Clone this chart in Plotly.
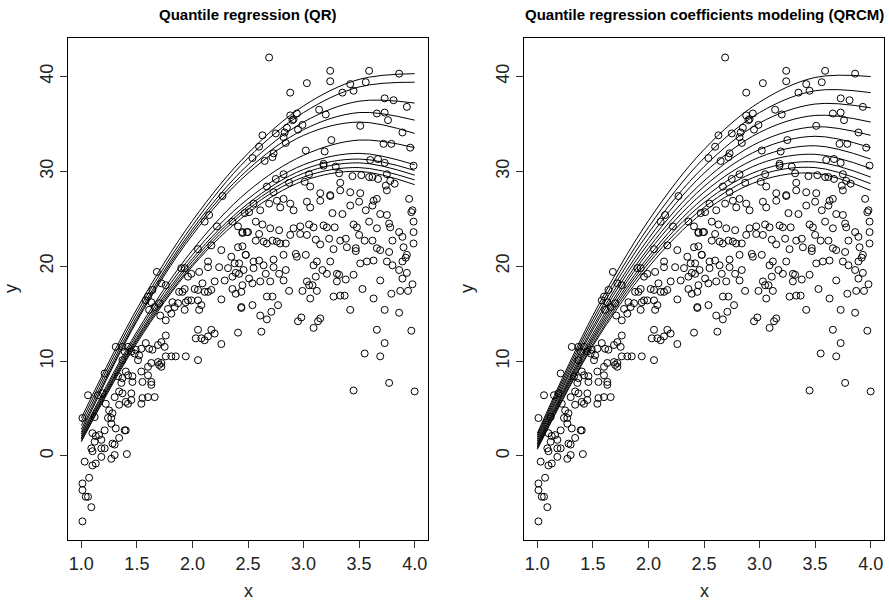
import plotly.graph_objects as go

# ---------------- data ----------------
x_pts = [
 # upper right region
 2.69,3.24,3.59,3.86,3.03,3.24,3.42,3.56,3.35,3.45,2.88,3.73,3.81,3.93,3.14,3.20,2.88,2.91,2.94,2.90,
 2.99,2.95,2.85,2.83,2.82,2.84,2.75,2.63,2.60,2.54,2.73,2.65,2.72,3.66,3.73,3.76,3.51,3.89,3.25,3.72,
 3.79,3.96,3.02,3.19,3.18,3.18,3.29,3.05,3.32,3.60,3.67,3.73,3.99,3.44,3.52,3.59,3.62,3.67,3.75,3.78,
 2.75,2.82,2.87,3.01,3.06,3.15,3.24,3.33,3.33,3.42,3.51,3.63,3.66,3.74,3.82,3.75,3.95,3.98,3.97,2.67,
 2.73,2.76,2.82,2.69,2.79,2.88,2.91,3.03,3.06,3.15,3.24,3.26,3.35,3.42,3.50,3.56,3.62,3.69,3.75,2.61,
 2.55,2.51,2.47,2.15,2.27,
 # lower right region
 2.57,2.63,2.70,2.78,2.91,2.97,3.05,3.09,3.18,3.21,3.28,3.45,3.48,3.59,3.66,3.77,3.78,3.86,3.99,3.99,
 2.45,2.49,2.60,2.72,2.57,2.64,2.67,2.76,2.79,2.84,2.88,2.97,3.03,3.11,3.15,3.23,3.27,3.33,3.38,3.39,
 3.47,3.50,3.55,3.62,3.66,3.69,3.77,3.80,3.89,3.90,3.99,3.93,
 2.48,2.55,2.60,2.64,2.73,2.73,2.82,2.93,2.94,3.02,3.09,3.12,3.17,3.24,3.21,3.30,3.32,3.47,3.51,3.57,
 3.63,3.75,3.80,3.89,3.92,3.86,3.93,2.46,2.55,2.66,2.78,2.84,2.51,
 2.54,2.61,2.70,2.82,2.87,2.99,3.03,3.05,3.08,3.11,3.12,3.30,3.38,3.45,3.53,3.69,3.89,3.98,3.94,3.87,
 3.79,3.63,3.42,3.27,3.33,3.37,3.06,2.77,2.72,2.67,2.54,2.44,2.45,
 2.61,2.67,2.71,2.95,2.98,3.15,3.13,3.09,2.62,3.73,3.86,3.66,3.97,3.73,3.55,3.69,3.77,4.00,3.45,
 # middle left region
 2.11,2.22,2.36,2.41,2.45,2.50,2.05,2.17,2.26,2.35,2.41,2.45,2.48,2.14,2.14,2.06,1.99,1.96,1.90,1.93,
 2.24,2.32,2.38,2.42,2.39,2.42,2.36,2.29,2.20,2.17,2.09,2.11,2.14,2.05,2.02,1.91,1.93,1.88,1.96,1.99,
 2.05,2.08,2.06,1.93,1.94,1.87,1.84,1.82,1.78,1.81,1.70,1.71,1.76,1.68,1.72,1.76,1.64,1.60,1.63,1.66,
 1.61,1.58,2.39,2.44,2.36,2.26,2.44,2.41,2.26,2.14,2.05,2.11,2.08,2.17,2.20,2.03,2.05,1.94,1.85,1.81,
 1.76,1.72,1.70,1.72,1.69,1.75,1.76,1.72,1.69,1.64,1.61,1.58,1.54,1.49,1.48,1.52,1.51,1.45,1.42,1.39,
 1.37,1.31,1.37,1.63,1.60,1.54,1.60,1.46,1.40,1.42,1.37,1.33,1.21,
 # lower left region
 1.06,1.01,1.12,1.15,1.19,1.22,1.25,1.24,1.27,1.28,1.27,1.30,1.34,1.37,1.36,1.45,1.46,1.55,1.63,1.63,
 1.55,1.60,1.66,1.54,1.42,1.34,1.40,1.45,1.21,1.31,1.39,1.40,1.34,1.28,1.30,1.18,1.13,1.10,1.16,1.12,
 1.09,1.10,1.18,1.21,1.18,1.27,1.30,1.41,1.03,1.10,1.13,1.07,1.01,1.01,1.04,1.06,1.09,1.01,
]
y_pts = [
 42.0,40.6,40.6,40.3,39.3,39.5,39.2,39.4,38.3,38.5,38.3,37.7,37.5,36.8,36.5,36.0,35.9,35.5,36.1,35.4,
 34.9,34.4,34.6,34.1,33.6,33.0,34.0,33.8,32.6,31.4,31.9,31.1,31.5,36.1,36.2,35.4,34.8,34.1,33.3,32.9,
 32.9,32.5,32.2,32.1,30.8,30.6,30.5,29.7,29.8,31.2,31.3,30.9,30.6,29.5,29.6,29.4,29.4,29.2,29.7,29.0,
 29.2,29.7,28.8,28.9,28.4,27.7,27.4,28.0,28.8,27.8,27.7,26.9,27.1,28.5,28.7,28.0,27.1,25.9,25.7,28.4,
 27.8,26.9,27.1,26.6,26.2,26.6,25.9,26.8,26.2,26.9,27.5,25.6,25.5,26.4,26.8,25.9,26.4,25.5,25.4,25.9,
 26.6,25.7,25.6,25.4,27.4,
 24.7,24.4,24.0,23.8,24.0,24.2,24.4,24.1,24.3,24.1,24.1,24.4,24.1,24.7,24.0,24.5,24.1,23.6,24.7,23.6,
 23.5,23.6,23.4,22.7,22.7,22.6,22.4,22.6,22.4,22.4,23.3,23.4,23.3,22.8,22.3,22.9,21.8,22.7,22.9,22.0,
 21.9,23.3,22.7,22.7,21.9,21.7,21.5,22.7,23.1,22.0,22.4,21.2,
 21.2,20.5,20.6,20.1,20.7,19.9,21.2,21.3,21.0,21.2,20.1,20.5,19.6,20.5,19.2,19.2,19.1,21.6,20.3,20.5,
 20.6,20.5,20.1,20.5,20.9,19.6,19.3,19.6,19.8,19.2,19.2,19.6,18.7,
 18.2,18.4,18.4,18.5,17.4,17.4,18.4,18.0,18.0,18.9,17.4,18.4,18.6,19.1,17.6,18.5,18.7,18.1,17.4,17.4,
 17.1,16.6,15.4,16.8,16.9,16.9,16.6,15.9,16.8,16.8,15.9,15.6,18.0,
 14.8,14.4,15.2,14.2,14.6,14.5,14.2,13.5,13.1,15.4,15.1,13.3,13.2,11.9,10.8,10.5,7.7,6.8,6.9,
 24.7,24.2,24.7,24.2,23.6,23.6,21.8,22.2,21.7,21.0,22.0,22.1,21.2,19.9,20.5,19.4,19.2,18.9,19.8,19.8,
 19.9,19.8,20.3,20.3,19.3,19.2,18.9,18.5,18.4,17.5,18.2,17.3,17.3,17.5,17.6,17.3,17.6,17.3,16.4,16.4,
 16.4,15.9,15.4,15.4,16.2,16.1,15.7,16.2,15.5,15.0,16.1,14.8,14.3,19.4,18.2,18.0,17.5,16.8,16.2,15.7,
 15.4,16.4,17.1,17.3,17.6,16.5,15.7,13.0,11.8,12.6,13.3,12.2,12.4,13.3,12.9,12.4,10.1,10.5,10.5,10.5,
 10.5,9.8,9.6,9.4,9.9,11.5,12.7,12.0,11.7,11.2,11.3,11.9,11.3,11.2,10.8,10.6,10.1,11.0,11.5,11.0,
 11.5,11.5,10.1,9.8,9.4,8.9,8.5,8.4,8.9,8.5,8.2,8.4,8.7,
 6.4,4.0,4.1,6.4,6.6,5.5,4.8,4.0,4.0,4.5,3.4,6.2,6.8,6.6,7.7,6.6,7.8,7.8,7.8,7.5,
 6.1,6.2,6.2,5.5,5.5,5.4,5.7,5.9,2.7,2.9,2.7,2.7,1.9,1.3,1.2,1.7,2.1,2.4,2.2,1.5,
 0.8,0.5,-0.1,0.8,0.8,-0.3,0.1,0.2,-0.6,-1.0,-0.8,-2.3,-2.9,-3.6,-4.3,-4.3,-5.4,-6.9,
]

curve_x = [1.0, 1.5, 2.0, 2.5, 3.0, 3.5, 4.0]

qr_curves = [
 [4.0, 15.5, 24.8, 31.9, 36.9, 39.7, 40.3],
 [3.6, 15.1, 24.3, 31.4, 36.2, 38.9, 39.4],
 [3.2, 14.7, 23.9, 30.7, 35.2, 37.4, 37.2],
 [2.8, 14.4, 23.6, 30.2, 34.4, 36.2, 35.4],
 [2.5, 14.2, 23.3, 29.8, 33.8, 35.2, 34.0],
 [2.3, 13.1, 21.7, 27.9, 31.7, 33.3, 32.5],
 [2.1, 12.8, 21.2, 27.1, 30.7, 31.9, 30.7],
 [1.9, 12.5, 20.8, 26.6, 30.2, 31.3, 30.1],
 [1.8, 12.3, 20.5, 26.3, 29.8, 30.9, 29.6],
 [1.6, 12.1, 20.2, 26.0, 29.4, 30.4, 29.1],
 [1.5, 11.9, 20.0, 25.6, 29.0, 30.0, 28.6],
]

qrcm_curves = [
 [2.4, 14.8, 24.8, 32.3, 37.3, 39.9, 40.0],
 [2.2, 14.4, 24.1, 31.4, 36.2, 38.5, 38.3],
 [2.0, 14.0, 23.5, 30.5, 35.1, 37.1, 36.7],
 [1.8, 13.6, 22.9, 29.8, 34.1, 35.9, 35.2],
 [1.6, 13.3, 22.4, 29.0, 33.1, 34.7, 33.8],
 [1.4, 12.9, 21.9, 28.4, 32.3, 33.7, 32.5],
 [1.25, 12.6, 21.5, 27.8, 31.5, 32.7, 31.3],
 [1.1, 12.35, 21.0, 27.2, 30.8, 31.8, 30.3],
 [0.95, 12.1, 20.65, 26.7, 30.1, 31.0, 29.4],
 [0.8, 11.8, 20.3, 26.2, 29.6, 30.4, 28.7],
 [0.7, 11.6, 19.9, 25.75, 29.0, 29.8, 28.0],
]

x_ticks = [1.0, 1.5, 2.0, 2.5, 3.0, 3.5, 4.0]
x_tick_labels = ["1.0", "1.5", "2.0", "2.5", "3.0", "3.5", "4.0"]
y_ticks = [0, 10, 20, 30, 40]
y_tick_labels = ["0", "10", "20", "30", "40"]

titles = ["Quantile regression (QR)", "Quantile regression coefficients modeling (QRCM)"]

# ---------------- figure ----------------
W, H = 889, 603
FONT = "Liberation Sans, Arial, Helvetica, sans-serif"
fig = go.Figure()

panels = [("x", "y", qr_curves), ("x2", "y2", qrcm_curves)]
for xa, ya, curves in panels:
    fig.add_trace(go.Scatter(
        x=x_pts, y=y_pts, mode="markers", xaxis=xa, yaxis=ya,
        marker=dict(symbol="circle-open", size=7, color="black", line=dict(width=1, color="black")),
        showlegend=False, hoverinfo="skip"))
    for c in curves:
        fig.add_trace(go.Scatter(
            x=curve_x, y=c, mode="lines", xaxis=xa, yaxis=ya,
            line=dict(color="black", width=1, shape="spline", smoothing=1.0),
            showlegend=False, hoverinfo="skip"))

ytop, ybot = 38, 540
dom_y = [1 - ybot / H, 1 - ytop / H]
left_dom = [68 / W, 428 / W]
right_dom = [524 / W, 884 / W]

axis_common = dict(showline=True, mirror=True, linecolor="black", linewidth=1,
                   ticks="outside", ticklen=7, tickwidth=1, tickcolor="#333",
                   showgrid=False, zeroline=False,
                   tickfont=dict(family=FONT, size=18, color="#222"))

xr = [0.88, 4.12]
yr = [-8.86, 44.06]

fig.update_layout(
    width=W, height=H, margin=dict(l=0, r=0, t=0, b=0),
    plot_bgcolor="white", paper_bgcolor="white",
    xaxis=dict(domain=left_dom, range=xr, anchor="y", tickvals=x_ticks, ticktext=x_tick_labels, **axis_common),
    yaxis=dict(domain=dom_y, range=yr, anchor="x", tickvals=y_ticks, ticktext=y_tick_labels, tickangle=-90, **axis_common),
    xaxis2=dict(domain=right_dom, range=xr, anchor="y2", tickvals=x_ticks, ticktext=x_tick_labels, **axis_common),
    yaxis2=dict(domain=dom_y, range=yr, anchor="x2", tickvals=y_ticks, ticktext=y_tick_labels, tickangle=-90, **axis_common),
)

annotations = []
for dom, title in zip([left_dom, right_dom], titles):
    cx = (dom[0] + dom[1]) / 2
    annotations.append(dict(text="<b>" + title + "</b>", x=cx, y=1 - 15 / H, xref="paper", yref="paper",
                            showarrow=False, xanchor="center", yanchor="middle",
                            font=dict(family=FONT, size=15, color="black")))
    annotations.append(dict(text="x", x=cx, y=1 - 591 / H, xref="paper", yref="paper",
                            showarrow=False, xanchor="center", yanchor="middle",
                            font=dict(family=FONT, size=18, color="#222")))
    annotations.append(dict(text="y", x=(dom[0] * W - 57) / W, y=1 - 289 / H, xref="paper", yref="paper",
                            showarrow=False, xanchor="center", yanchor="middle", textangle=-90,
                            font=dict(family=FONT, size=18, color="#222")))
fig.update_layout(annotations=annotations)

fig.write_html("out.html")
